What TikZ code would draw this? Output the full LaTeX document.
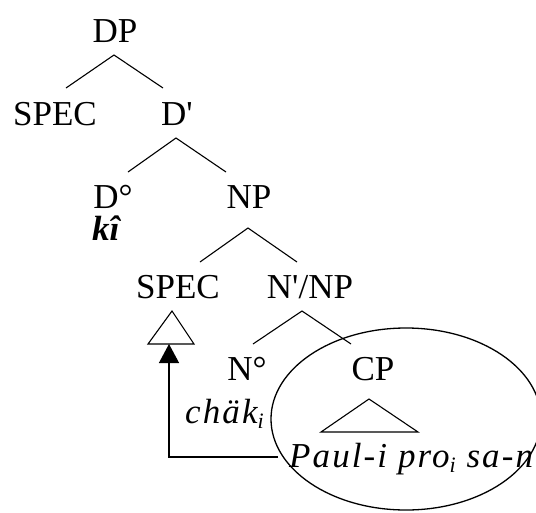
\documentclass[tikz,border=0pt]{standalone}
\usepackage{fontspec}
\setmainfont{Liberation Serif}[Ligatures=TeXOff]
\usetikzlibrary{arrows.meta,shapes.geometric}
\newcommand{\mysub}[1]{{\fontsize{22}{22}\selectfont\raisebox{-5pt}{#1}}}
\begin{document}
\begin{tikzpicture}[x=1pt,y=-1pt,
  lab/.style={inner sep=0pt,anchor=base,font=\fontsize{35}{40}\selectfont},
  labw/.style={inner sep=0pt,anchor=base west,font=\fontsize{35}{40}\selectfont\itshape\addfontfeatures{LetterSpace=6}},
  br/.style={line width=1.1pt}]
\useasboundingbox (0,0) rectangle (536,512);
\clip (0,0) rectangle (536,512);
% labels
\node[lab] (dp) at (115,42) {DP};
\node[lab] (spec1) at (55,125) {SPEC};
\node[lab] (dbar) at (177,125) {D'};
\node[lab] (dzero) at (113,208) {D°};
\node[lab] (np) at (249,208) {NP};
\node[inner sep=0pt,anchor=base west,font=\fontsize{35}{40}\selectfont\bfseries\itshape] (ki) at (92,240) {kî};
\node[lab] (spec2) at (178,298) {SPEC};
\node[lab] (nbar) at (310,298) {N'/NP};
\node[lab] (nzero) at (247,380) {N°};
\node[lab] (cp) at (373,380) {CP};
\node[labw] (chak) at (185,423) {chäk\mysub{i}};
\node[labw] (paul) at (289,467) {Paul-i pro\mysub{i} sa-n};
% branch coordinates
\coordinate (a1) at (114,55); \coordinate (a1l) at (66,88); \coordinate (a1r) at (163,88);
\coordinate (a2) at (176,138); \coordinate (a2l) at (128,172); \coordinate (a2r) at (226,172);
\coordinate (a3) at (248,228); \coordinate (a3l) at (200,262); \coordinate (a3r) at (297,262);
\coordinate (a4) at (302,311); \coordinate (a4l) at (253,344); \coordinate (a4r) at (351,344);
\draw[br] (a1l) -- (a1) -- (a1r);
\draw[br] (a2l) -- (a2) -- (a2r);
\draw[br] (a3l) -- (a3) -- (a3r);
\draw[br] (a4l) -- (a4) -- (a4r);
% triangles
\coordinate (t1) at (172,311); \coordinate (t1l) at (148,344); \coordinate (t1r) at (194,344);
\coordinate (t2) at (369,399); \coordinate (t2l) at (321,432); \coordinate (t2r) at (418,432);
\draw[br] (t1) -- (t1l) -- (t1r) -- cycle;
\draw[br] (t2) -- (t2l) -- (t2r) -- cycle;
% ellipse
\node[draw,line width=1.3pt,ellipse,minimum width=270pt,minimum height=182pt,inner sep=0pt] (circ) at (406,419) {};
% arrow
\coordinate (arrS) at (278,457);
\coordinate (arrC) at (169,457);
\coordinate (arrE) at (169,344);
\draw[line width=1.3pt,-{Triangle[length=19pt,width=20pt]}] (arrS) -- (arrC) -- (arrE);
\end{tikzpicture}
\end{document}
